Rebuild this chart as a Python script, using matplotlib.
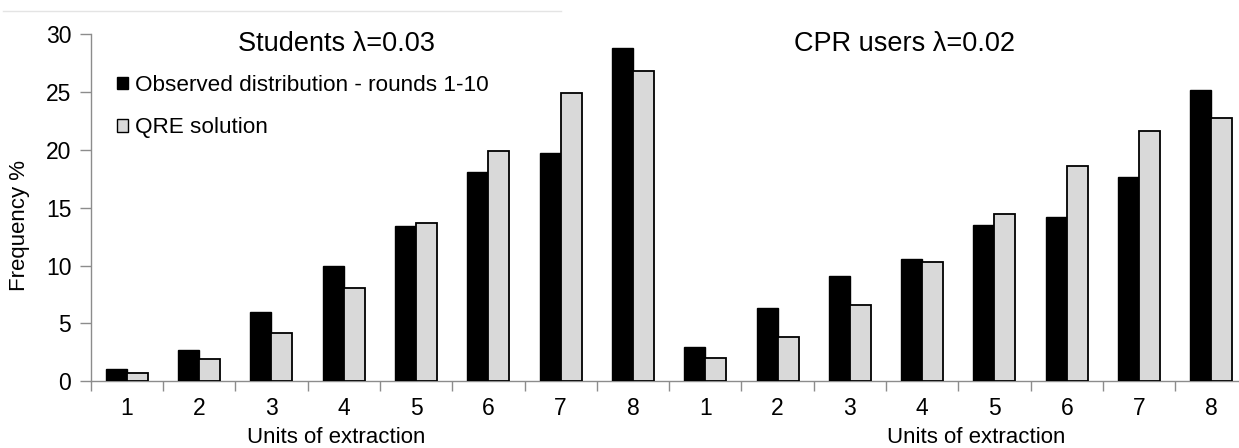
import matplotlib
matplotlib.use("Agg")
import matplotlib.pyplot as plt
from matplotlib.patches import Patch
from matplotlib.lines import Line2D
import numpy as np

plt.rcParams['font.family'] = ['Liberation Sans', 'DejaVu Sans']

# Units of extraction shown in each panel
units = [1, 2, 3, 4, 5, 6, 7, 8]

# Frequency (%) of each choice
students_observed = [1.1, 2.7, 6.0, 10.0, 13.4, 18.1, 19.7, 28.8]
students_qre = [0.7, 1.9, 4.2, 8.1, 13.7, 19.9, 24.9, 26.8]
cpr_observed = [3.0, 6.3, 9.1, 10.6, 13.5, 14.2, 17.7, 25.2]
cpr_qre = [2.0, 3.8, 6.6, 10.3, 14.5, 18.6, 21.6, 22.8]

group_titles = ["Students \u03bb=0.03", "CPR users \u03bb=0.02"]
series_labels = ["Observed distribution - rounds 1-10", "QRE solution"]
x_label = "Units of extraction"
y_label = "Frequency %"

observed = students_observed + cpr_observed
qre = students_qre + cpr_qre
tick_labels = [str(u) for u in units] * 2

W, H = 1239, 448
fig = plt.figure(figsize=(W / 100, H / 100), dpi=100)

left_px, right_px = 90.7, 1247.5
top_px, bottom_px = 34.3, 381.3
ax = fig.add_axes([left_px / W, 1 - bottom_px / H,
                   (right_px - left_px) / W, (bottom_px - top_px) / H])

n = len(observed)
x = np.arange(n) + 0.5
bw = 0.29
ax.bar(x - bw / 2, observed, width=bw, color="black", edgecolor="black",
       linewidth=1.0, zorder=3)
ax.bar(x + bw / 2, qre, width=bw, color="#d9d9d9", edgecolor="black",
       linewidth=1.3, zorder=3)

ax.set_xlim(0, n)
ax.set_ylim(0, 30)
ax.set_yticks(range(0, 31, 5))

ax.set_xticks(np.arange(0, n + 1))
ax.set_xticklabels([])
ax.set_xticks(x, minor=True)
ax.set_xticklabels(tick_labels, minor=True)
ax.tick_params(axis="x", which="major", length=7, width=1, color="#8c8c8c",
               direction="out")
ax.tick_params(axis="x", which="minor", length=0, pad=11, labelsize=16.5)
ax.tick_params(axis="y", length=8, width=1, color="#8c8c8c", pad=6,
               labelsize=16.5, direction="out")

for side in ["top", "right"]:
    ax.spines[side].set_visible(False)
for side in ["left", "bottom"]:
    ax.spines[side].set_color("#8c8c8c")
    ax.spines[side].set_linewidth(1)

# Panel titles
fig.text(337 / W, 1 - 50.7 / H, group_titles[0], ha="center", va="baseline",
         fontsize=19.5)
fig.text(905 / W, 1 - 50.7 / H, group_titles[1], ha="center", va="baseline",
         fontsize=19.5)

# Axis labels
fig.text(336 / W, 1 - 437 / H, x_label, ha="center", va="center", fontsize=16)
fig.text(976 / W, 1 - 437 / H, x_label, ha="center", va="center", fontsize=16)
fig.text(20 / W, 1 - 225 / H, y_label, ha="center", va="center",
         rotation=90, fontsize=16)

# Legend with square swatches
handles = [Patch(facecolor="black", edgecolor="black", linewidth=1.0),
           Patch(facecolor="#d9d9d9", edgecolor="black", linewidth=1.0)]
fig.legend(handles, series_labels, loc="upper left",
           bbox_to_anchor=(117 / W, 1 - 75 / H), frameon=False, fontsize=16.2,
           handlelength=0.5, handleheight=0.5, handletextpad=0.3,
           labelspacing=0.95, borderpad=0, borderaxespad=0)

# Thin rule along the top
fig.add_artist(Line2D([3 / W, 561 / W], [1 - 10.7 / H, 1 - 10.7 / H],
                      color="#e4e4e4", linewidth=1, transform=fig.transFigure))

fig.savefig("out.png", dpi=100)
